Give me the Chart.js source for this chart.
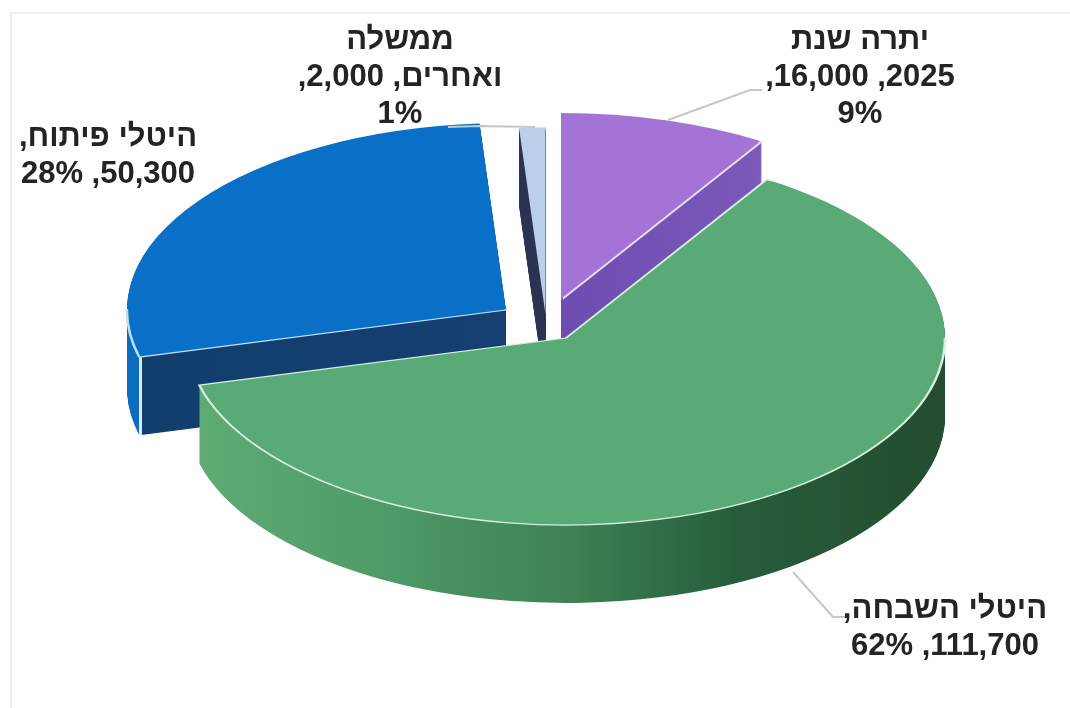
<!DOCTYPE html>
<html lang="he">
<head>
<meta charset="utf-8">
<title>3D pie</title>
<script src="https://cdn.jsdelivr.net/npm/chart.js@4"></script>
<style>
html,body{margin:0;padding:0;background:#fdfefd;overflow:hidden}
canvas{display:block}
</style>
</head>
<body>
<canvas id="c" width="1070" height="708"></canvas>
<script>
// Data
const categories = ['יתרה שנת 2025', 'היטלי השבחה', 'היטלי פיתוח', 'ממשלה ואחרים'];
const seriesValues = [16000, 111700, 50300, 2000];
const labelLines = [
  ['יתרה שנת', '2025, 16,000,', '9%'],
  ['היטלי השבחה,', '111,700, 62%'],
  ['היטלי פיתוח,', '50,300, 28%'],
  ['ממשלה', 'ואחרים, 2,000,', '1%']
];

// Styling and layout (not data)
const topColors = ['#a473d6', '#59aa76', '#0a6fc6', '#b9cfea'];
const edgeColors = ['#e9dcf6', '#d5efdc', '#bfe0f5', '#dfe9f5'];
const apexes = [[561, 300], [566, 338], [506, 310], [545.5, 314.5]];
const labelCenters = [[860, 40], [945, 609], [108, 137], [400, 40]];
const LINE_H = 37, SQUASH = 0.4934, DEPTH = 78, PIE_R = 379;
const drawOrder = [0, 3, 2, 1];
const wallStops = [
  [[561, 762], [[0, '#6f4db0'], [1, '#7b59bb']]],
  [[200, 946], [[0, '#5fab74'], [.25, '#4f9a66'], [.5, '#3d8154'], [.72, '#265c3b'], [1, '#234d30']]],
  [[128, 506], [[0, '#0b6cc0'], [.028, '#0b6cc0'], [.03, '#d8ecf8'], [.036, '#d8ecf8'], [.038, '#123e6e'], [1, '#143f70']]],
  [[520, 546], [[0, '#2b3353'], [1, '#2b3353']]]
];
// Regions of the canvas in which each slice shows its pale rim
const rimWindows = [
  [[563, 141, 220, 170]],
  [[0, 0, 771, 708], [0, 338, 1070, 370]],
  [[0, 309, 520, 60]],
  []
];
const leaders = [
  [[668, 120], [750, 90], [762, 90]],
  [[793, 572], [833, 617], [846, 617]],
  [[448, 127], [480, 126], [535, 127]]
];

const pie3d = {
  id: 'pie3d',
  beforeDraw(chart) {
    const c = chart.ctx;
    c.save();
    c.fillStyle = '#fdfefd';
    c.fillRect(0, 0, chart.width, chart.height);
    c.strokeStyle = '#ececec';
    c.lineWidth = 1.5;
    c.beginPath();
    c.moveTo(11, 708); c.lineTo(11, 13); c.lineTo(1070, 13);
    c.stroke();
    c.restore();
  },
  beforeDatasetDraw(chart) {
    const c = chart.ctx, arcs = chart.getDatasetMeta(0).data;
    const paint = (el, i, dz, fill, edge, bw) => {
      const saved = el.options;
      el.options = {backgroundColor: fill, borderColor: edge, borderWidth: bw, borderAlign: 'center',
        borderJoinStyle: 'round', borderRadius: 0, offset: 0, spacing: 0, circular: true, selfJoin: false,
        borderDash: [], borderDashOffset: 0};
      c.save();
      c.translate(apexes[i][0], apexes[i][1] + dz);
      c.scale(1, SQUASH);
      c.translate(-el.x, -el.y);
      el.draw(c);
      c.restore();
      el.options = saved;
    };
    drawOrder.forEach(i => {
      const el = arcs[i];
      const [[x0, x1], stops] = wallStops[i];
      const off = el.x - apexes[i][0];
      const g = c.createLinearGradient(x0 + off, 0, x1 + off, 0);
      stops.forEach(s => g.addColorStop(s[0], s[1]));
      for (let dz = DEPTH; dz >= 1; dz--) paint(el, i, dz, g, g, 0);
      paint(el, i, 0, topColors[i], topColors[i], 0);
      if (rimWindows[i].length) {
        c.save();
        c.beginPath();
        rimWindows[i].forEach(r => c.rect(r[0], r[1], r[2], r[3]));
        c.clip();
        paint(el, i, 0, topColors[i], edgeColors[i], 2.6);
        c.restore();
      }
    });
    return false;
  },
  afterDraw(chart) {
    const c = chart.ctx;
    c.save();
    c.strokeStyle = '#c6c8c8';
    c.lineWidth = 2;
    leaders.forEach(p => {
      c.beginPath();
      p.forEach((q, k) => k ? c.lineTo(q[0], q[1]) : c.moveTo(q[0], q[1]));
      c.stroke();
    });
    c.fillStyle = '#222426';
    c.font = 'bold 31px "Liberation Sans", Arial, sans-serif';
    c.direction = 'rtl';
    c.textAlign = 'center';
    c.textBaseline = 'middle';
    labelLines.forEach((lines, i) => {
      lines.forEach((t, k) => c.fillText(t, labelCenters[i][0], labelCenters[i][1] + k * LINE_H));
    });
    c.restore();
  }
};

new Chart(document.getElementById('c'), {
  type: 'pie',
  data: {
    labels: categories,
    datasets: [{data: seriesValues, backgroundColor: topColors, borderColor: edgeColors, borderWidth: 2}]
  },
  options: {
    responsive: false,
    animation: false,
    radius: PIE_R,
    rotation: 0,
    plugins: {legend: {display: false}, tooltip: {enabled: false}, title: {display: false}}
  },
  plugins: [pie3d]
});
</script>
</body>
</html>
